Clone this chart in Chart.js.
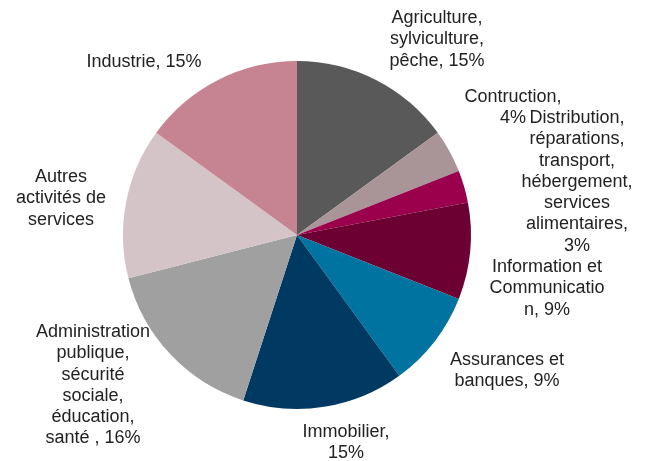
<!DOCTYPE html>
<html>
<head>
<meta charset="utf-8">
<script src="https://cdn.jsdelivr.net/npm/chart.js@4"></script>
<style>
    html, body { margin: 0; padding: 0; background: #ffffff; }
    #wrap { width: 651px; height: 461px; position: relative; }
</style>
</head>
<body>
<div id="wrap"><canvas id="pieChart" width="651" height="461"></canvas></div>
<script>
// Secteurs (ordre horaire à partir de midi)
const categories = [
    'Agriculture, sylviculture, pêche',
    'Contruction',
    'Distribution, réparations, transport, hébergement, services alimentaires',
    'Information et Communication',
    'Assurances et banques',
    'Immobilier',
    'Administration publique, sécurité sociale, éducation, santé',
    'Autres activités de services',
    'Industrie'
];
const shares = [15, 4, 3, 9, 9, 15, 16, 14, 15];

// Texte des étiquettes tel qu'affiché (retours à la ligne compris)
const labelLines = [
    ['Agriculture,', 'sylviculture,', 'pêche, 15%'],
    ['Contruction,', '4%'],
    ['Distribution,', 'réparations,', 'transport,', 'hébergement,', 'services', 'alimentaires,', '3%'],
    ['Information et', 'Communicatio', 'n, 9%'],
    ['Assurances et', 'banques, 9%'],
    ['Immobilier,', '15%'],
    ['Administration', 'publique,', 'sécurité', 'sociale,', 'éducation,', 'santé , 16%'],
    ['Autres', 'activités de', 'services'],
    ['Industrie, 15%']
];

const sliceColors = ['#595959', '#a99598', '#9b004d', '#6c0033', '#0073a0',
                     '#003a63', '#a0a0a0', '#d4c3c7', '#c68492'];

// Position des étiquettes (centre x, centre de la 1re ligne y)
const labelPos = [
    [437, 18], [513, 97], [577, 118], [547, 267], [507, 360],
    [346, 432], [93, 332], [61, 177], [144, 62]
];
const LINE_H = 21.3;

const labelPlugin = {
    id: 'sliceLabels',
    afterDatasetsDraw(chart) {
        const ctx = chart.ctx;
        ctx.save();
        ctx.font = '18px "Liberation Sans", Arial, sans-serif';
        ctx.fillStyle = '#222222';
        ctx.textAlign = 'center';
        ctx.textBaseline = 'middle';
        labelLines.forEach((lines, i) => {
            const [x, y] = labelPos[i];
            lines.forEach((txt, j) => ctx.fillText(txt, x, y + j * LINE_H));
        });
        ctx.restore();
    }
};

new Chart(document.getElementById('pieChart'), {
    type: 'pie',
    data: {
        labels: categories,
        datasets: [{
            data: shares,
            backgroundColor: sliceColors,
            borderWidth: 0
        }]
    },
    options: {
        responsive: false,
        animation: false,
        layout: { padding: { left: 123, right: 180, top: 61, bottom: 52 } },
        plugins: {
            legend: { display: false },
            tooltip: { enabled: false }
        }
    },
    plugins: [labelPlugin]
});
</script>
</body>
</html>
